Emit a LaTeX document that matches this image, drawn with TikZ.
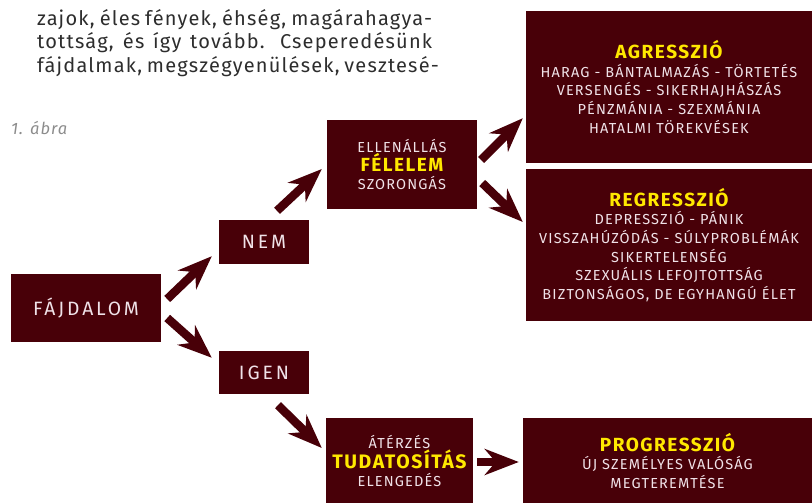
\documentclass[tikz,border=0pt]{standalone}
\usepackage{fontspec}
\setmainfont[LetterSpace=6]{Fira Sans}
\newfontfamily\capsfont[LetterSpace=8]{Fira Sans}
\newfontfamily\widecaps[LetterSpace=15]{Fira Sans}
\usepackage{xcolor}
\usepackage{tikz}
\usetikzlibrary{calc,arrows.meta}

\definecolor{bordo}{RGB}{72,0,8}
\definecolor{halvany}{RGB}{240,226,232}
\definecolor{sarga}{RGB}{255,232,0}
\definecolor{szoveg}{RGB}{45,45,45}
\definecolor{felirat}{RGB}{140,140,140}
\newcommand{\kiemel}[2][19]{{\color{sarga}\capsfont\bfseries\fontsize{#1}{18.7}\selectfont #2}}

\begin{document}
\begin{tikzpicture}[x=1pt,y=-1pt,
    box/.style={fill=bordo, text=halvany, inner sep=0pt, align=center,
                font=\capsfont\fontsize{14.5}{18.7}\selectfont},
    bigbox/.style={box, font=\widecaps\fontsize{19.3}{20}\selectfont},
    nyil/.style={bordo, line width=8.5pt,
                 -{Stealth[length=34pt, width=26pt, inset=11pt]}},
    sor/.style={anchor=base west, inner sep=0pt, text=szoveg,
                font=\fontsize{20}{23}\selectfont}]

\useasboundingbox (0,0) rectangle (812,503);

% BODY TEXT
  \node[sor] (sor1) at (37,26) {\makebox[395pt][s]{zajok, éles fények, éhség, magárahagya-}};
  \node[sor] (sor2) at (37,49) {\makebox[395pt][s]{tottság, és így tovább. Cseperedésünk}};
  \node[sor] (sor3) at (37,73) {\makebox[395pt][s]{fájdalmak, megszégyenülések, vesztesé-}};

  \node[anchor=base west, inner sep=0pt, text=felirat, font=\itshape\fontsize{16.5}{18}\selectfont]
    (abra) at (11,135) {1. ábra};

% BOXES
  \node[bigbox, minimum width=150pt, minimum height=68pt] (fajdalom) at (86,308) {FÁJDALOM};
  \node[bigbox, minimum width=90pt, minimum height=44pt] (nem) at (264,242) {NEM};
  \node[bigbox, minimum width=90pt, minimum height=43pt] (igen) at (264,372.5) {IGEN};

  \node[box, minimum width=150pt, minimum height=89pt] (felelem) at (402,164.5)
    {ELLENÁLLÁS\\ \kiemel{FÉLELEM}\\ SZORONGÁS};
  \node[box, minimum width=286pt, minimum height=152pt] (agresszio) at (669,87)
    {\kiemel{AGRESSZIÓ}\\ HARAG - BÁNTALMAZÁS - TÖRTETÉS\\ VERSENGÉS - SIKERHAJHÁSZÁS\\
     PÉNZMÁNIA - SZEXMÁNIA\\ HATALMI TÖREKVÉSEK};
  \node[box, minimum width=286pt, minimum height=152pt] (regresszio) at (669,245)
    {\kiemel{REGRESSZIÓ}\\ DEPRESSZIÓ - PÁNIK\\ VISSZAHÚZÓDÁS - SÚLYPROBLÉMÁK\\
     SIKERTELENSÉG\\ SZEXUÁLIS LEFOJTOTTSÁG\\ BIZTONSÁGOS, DE EGYHANGÚ ÉLET};

  \node[box, minimum width=147pt, minimum height=87pt] (tudatositas) at (399.5,461)
    {ÁTÉRZÉS\\ \kiemel[19.5]{TUDATOSÍTÁS}\\ ELENGEDÉS};
  \node[box, minimum width=289pt, minimum height=87pt] (progresszio) at (667.5,461)
    {\kiemel{PROGRESSZIÓ}\\ ÚJ SZEMÉLYES VALÓSÁG\\ MEGTEREMTÉSE};

% ARROWS
  \draw[nyil] ($(fajdalom.east)+(6,-9)$) -- ($(nem.south west)+(-7,-8)$);
  \draw[nyil] ($(fajdalom.east)+(6,10)$) -- ($(igen.north west)+(-7,7)$);
  \draw[nyil] ($(nem.north)+(13,-9)$) -- ($(felelem.west)+(-5,4.5)$);
  \draw[nyil] ($(felelem.east)+(4,-4.5)$) -- ($(agresszio.south west)+(-3,-45)$);
  \draw[nyil] ($(felelem.east)+(5,18.5)$) -- ($(regresszio.west)+(-3,-23)$);
  \draw[nyil] ($(igen.south)+(14,11)$) -- ($(tudatositas.west)+(-4,-13)$);
  \draw[nyil] ($(tudatositas.east)+(4,1)$) -- ($(progresszio.west)+(-4,1)$);
\end{tikzpicture}
\end{document}
